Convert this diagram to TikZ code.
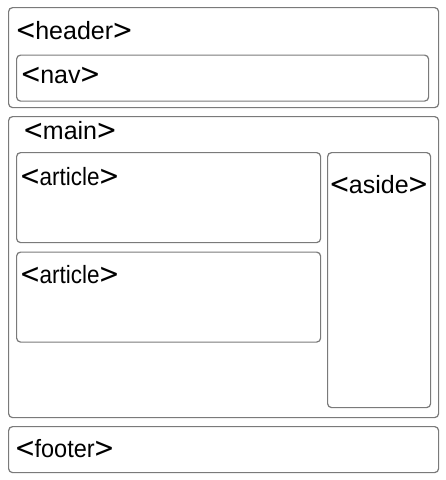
\documentclass[tikz,border=0pt]{standalone}
\usepackage{graphicx}
\usepackage{fontspec}
\setmainfont{Liberation Sans}
\newfontfamily\djvfont{DejaVu Sans}
\newcommand{\ltsym}{\scalebox{1}[1.12]{\djvfont <}\kern-1pt}
\newcommand{\gtsym}{\kern-1pt\scalebox{1}[1.12]{\djvfont >}}
\begin{document}
\begin{tikzpicture}[x=1pt,y=-1pt,
  box/.style={draw=boxgray, line width=1.2pt, rounded corners=4pt, inner sep=0pt, anchor=north west},
  lbl/.style={anchor=base west, inner sep=0pt, font=\fontsize{25pt}{28pt}\selectfont, text=black}]
\definecolor{boxgray}{HTML}{7A7A7A}
\useasboundingbox (0,0) rectangle (446,480);
\fill[white] (0,0) rectangle (446,480);
% boxes
\node[box, minimum width=430pt, minimum height=100pt] (header) at (8,7) {};
\node[box, minimum width=412pt, minimum height=46pt] (nav) at (16,54.5) {};
\node[box, minimum width=430pt, minimum height=301pt] (main) at (8,116) {};
\node[box, minimum width=304pt, minimum height=90pt] (article1) at (16,152) {};
\node[box, minimum width=304pt, minimum height=90pt] (article2) at (16,251.5) {};
\node[box, minimum width=103pt, minimum height=255pt] (aside) at (327,152) {};
\node[box, minimum width=430pt, minimum height=46pt] (footer) at (8,426) {};
% labels
\node[lbl] (theader) at (15.2,39.5) {\ltsym header\gtsym};
\node[lbl] (tnav) at (20.2,83) {\ltsym nav\gtsym};
\node[lbl] (tmain) at (22.8,139.5) {\ltsym main\gtsym};
\node[lbl] (tart1) at (19.5,185.5) {\ltsym\scalebox{0.9}[1]{article}\gtsym};
\node[lbl] (tart2) at (19.5,283) {\ltsym\scalebox{0.9}[1]{article}\gtsym};
\node[lbl] (taside) at (328.8,193) {\ltsym aside\gtsym};
\node[lbl] (tfooter) at (14.5,457) {\ltsym\scalebox{0.94}[1]{footer}\gtsym};
\end{tikzpicture}
\end{document}
